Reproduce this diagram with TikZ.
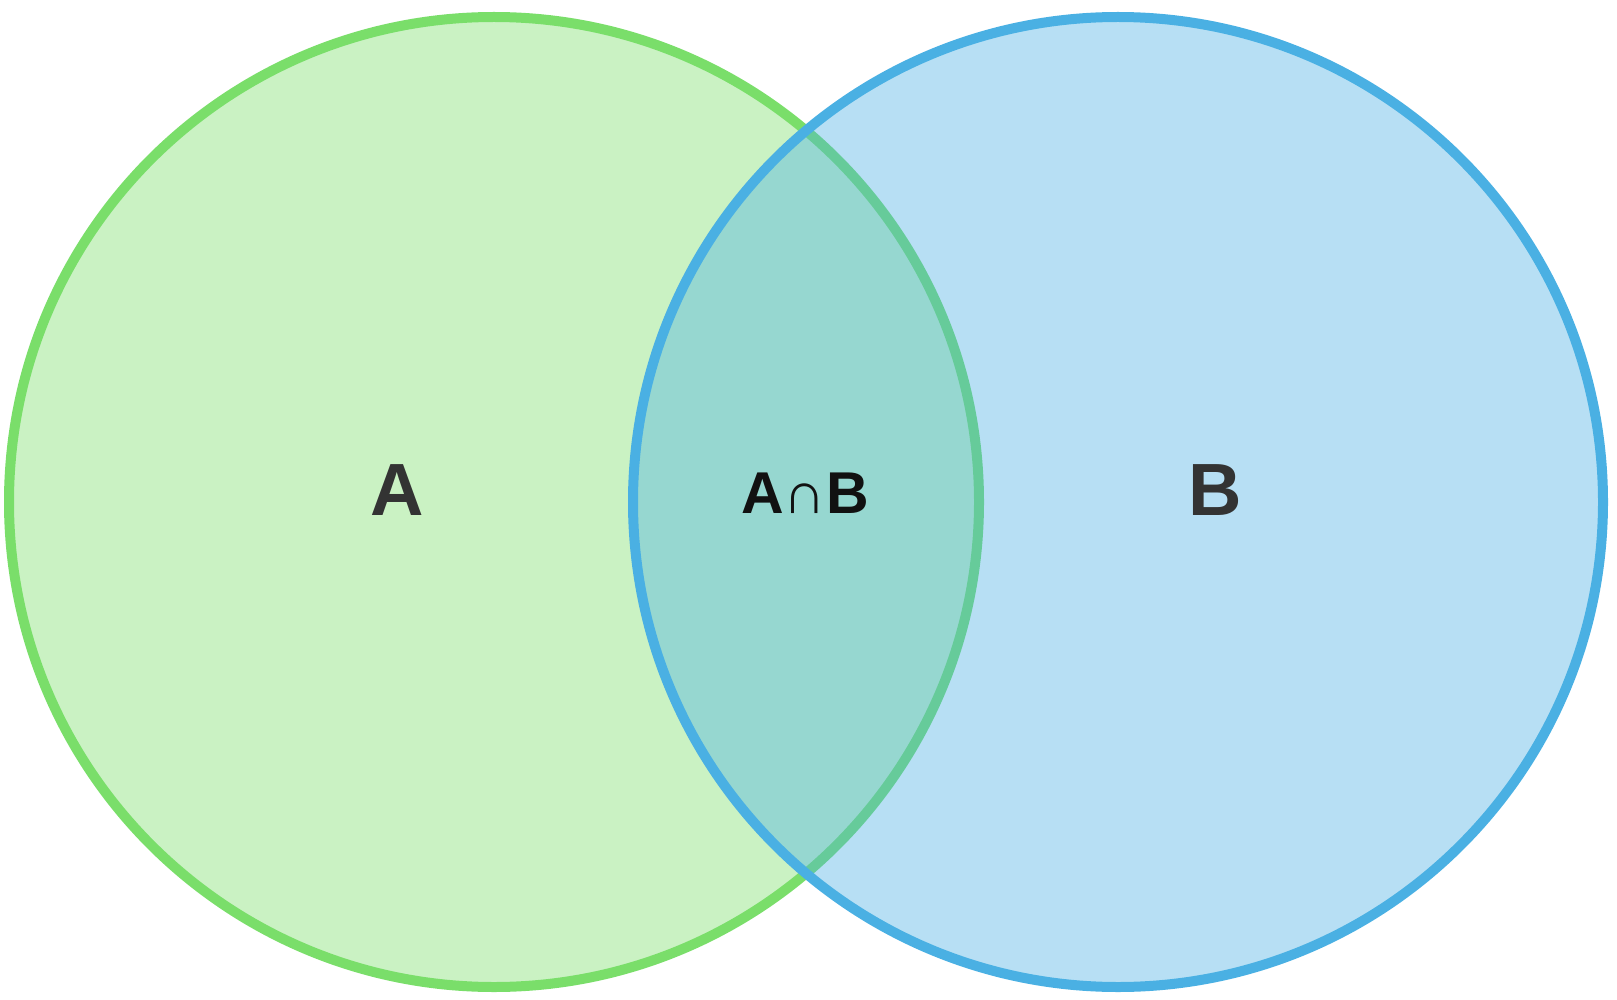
\documentclass[tikz,border=0pt]{standalone}
\usepackage{fontspec}
\setmainfont{Liberation Sans}
\usepackage{xcolor}
\definecolor{setgreen}{RGB}{122,222,106}
\definecolor{setblue}{RGB}{74,176,227}
\definecolor{labelgray}{RGB}{51,51,51}
\definecolor{labelblack}{RGB}{17,17,17}

\begin{document}
\begin{tikzpicture}[x=1pt, y=-1pt,
  setcircle/.style={line width=10pt},
  setlabel/.style={font=\fontsize{74}{80}\selectfont\bfseries, text=labelgray, inner sep=0},
  caplabel/.style={font=\fontsize{59}{64}\selectfont, text=labelblack, inner sep=0}]
\useasboundingbox (0,0) rectangle (1617,1000);
% set A, then set B on top
\draw[setcircle, setgreen, fill=setgreen, fill opacity=.4] (494,502) circle (485);
\draw[setcircle, setblue, fill=setblue, fill opacity=.4] (1118,502) circle (485);
\node[setlabel] (labA) at (397,490) {A};
\node[setlabel] (labB) at (1215,490) {B};
\node[caplabel] (labAB) at (805,493) {\textbf{A}∩\textbf{B}};
\end{tikzpicture}
\end{document}
